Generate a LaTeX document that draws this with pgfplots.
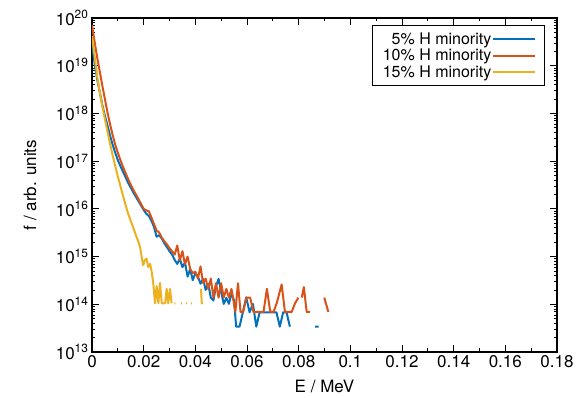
\documentclass[border=0pt]{standalone}
\usepackage{fontspec}
\setmainfont{TeX Gyre Heros}
\usepackage{pgfplots}
\pgfplotsset{compat=1.18}
\definecolor{cblue}{HTML}{0072BD}
\definecolor{corange}{HTML}{D95319}
\definecolor{cyellow}{HTML}{EDB120}
\begin{document}
\begin{tikzpicture}[font=\fontsize{17}{19}\selectfont]
\useasboundingbox (-92pt,-46pt) rectangle (486pt,352pt);
\begin{axis}[
  at={(0,0)}, anchor=south west,
  scale only axis, width=465pt, height=334pt,
  ymode=log, xmin=0, xmax=0.18, ymin=1e13, ymax=1e20,
  xtick={0,0.02,0.04,0.06,0.08,0.1,0.12,0.14,0.16,0.18},
  xticklabels={0,0.02,0.04,0.06,0.08,0.1,0.12,0.14,0.16,0.18},
  minor x tick num=1,
  ytick={1e13,1e14,1e15,1e16,1e17,1e18,1e19,1e20},
  yticklabels={10\textsuperscript{13},10\textsuperscript{14},10\textsuperscript{15},10\textsuperscript{16},10\textsuperscript{17},10\textsuperscript{18},10\textsuperscript{19},10\textsuperscript{20}},
  tick label style={font=\fontsize{17}{19}\selectfont},
  label style={font=\fontsize{17}{19}\selectfont},
  tick align=inside, major tick length=7pt, minor tick length=3.5pt,
  tick style={black, line width=0.7pt},
  axis line style={line width=1.1pt},
  xlabel={E / MeV}, ylabel={f / arb. units},
  every axis x label/.style={at={(axis description cs:0.5,-0.1018)}, anchor=center},
  every axis y label/.style={at={(axis description cs:-0.1333,0.5)}, rotate=90, anchor=center},
  unbounded coords=jump,
  legend style={at={(0.974,0.979)}, anchor=north east, draw=black, line width=0.7pt,
    font=\fontsize{16}{16}\selectfont, row sep=1.5pt, inner xsep=9pt, inner ysep=6pt,
    nodes={inner sep=1pt}},
  legend cell align=right, legend plot pos=right,
  legend image code/.code={\draw[#1, line width=2pt] (0cm,0cm) -- (1.45cm,0cm);},
  every axis plot/.append style={line width=2pt, line join=round},
]
\addplot[cblue] coordinates {
(0,2.8e19)(0.001,1.12e19)(0.002,5.2e18)(0.003,2.8e18)(0.004,1.5e18)(0.005,8.9e17)(0.006,5.6e17)(0.007,3.4e17)(0.008,2.2e17)(0.009,1.5e17)(0.010,1.05e17)(0.011,7.9e16)(0.012,6.0e16)(0.013,4.6e16)(0.014,3.5e16)(0.015,2.8e16)(0.016,2.2e16)(0.017,1.78e16)(0.018,1.45e16)(0.019,1.17e16)(0.020,9.5e15)(0.021,7.9e15)(0.022,7.1e15)(0.023,5.6e15)(0.024,4.2e15)(0.025,2.6e15)(0.026,2.8e15)(0.027,2.4e15)(0.028,1.9e15)(0.029,1.58e15)(0.030,1.3e15)(0.031,1.1e15)(0.032,8.5e14)(0.033,7.0e14)(0.034,9.0e14)(0.035,6.0e14)(0.036,7.5e14)(0.037,3.8e14)(0.038,5.5e14)(0.039,3.2e14)(0.040,4.5e14)(0.041,3.8e14)(0.042,2.7e14)(0.043,3.4e14)(0.044,2.0e14)(0.045,2.7e14)(0.046,1.36e14)(0.047,1.2e14)(0.048,2.4e14)(0.049,3.4e14)(0.050,1.8e14)(0.051,1.02e14)(0.052,1.36e14)(0.053,1.02e14)(0.054,1.7e14)(0.055,1.2e14)(0.0558,3.4e13)(0.0571,3.4e13)(0.0584,6.8e13)(0.0597,1.4e14)(0.0610,6.8e13)(0.0623,1.02e14)(0.0636,3.4e13)(0.0649,6.8e13)(0.0662,6.8e13)(0.0675,6.8e13)(0.0688,6.8e13)(0.0701,6.8e13)(0.0714,6.8e13)(0.0727,3.4e13)(0.0740,6.8e13)(0.0753,6.8e13)(0.0766,3.4e13)(0.078,nan)(0.0864,3.4e13)(0.0877,3.4e13)
};
\addlegendentry{5\% H minority}
\addplot[corange] coordinates {
(0,7.1e19)(0.001,3.2e19)(0.002,1.5e19)(0.003,7.6e18)(0.004,3.8e18)(0.005,2.0e18)(0.006,1.05e18)(0.007,5.9e17)(0.008,3.5e17)(0.009,2.2e17)(0.010,1.5e17)(0.011,1.05e17)(0.012,7.6e16)(0.013,5.6e16)(0.014,4.2e16)(0.015,3.2e16)(0.016,2.5e16)(0.017,2.0e16)(0.018,1.6e16)(0.019,1.26e16)(0.020,1.0e16)(0.021,9.3e15)(0.022,8.9e15)(0.023,6.6e15)(0.024,4.8e15)(0.025,3.5e15)(0.026,3.2e15)(0.027,2.5e15)(0.028,2.1e15)(0.029,1.8e15)(0.030,1.5e15)(0.031,1.3e15)(0.032,1.1e15)(0.033,1.7e15)(0.034,8.3e14)(0.035,1.3e15)(0.036,6.9e14)(0.037,1.0e15)(0.038,5.5e14)(0.039,4.5e14)(0.040,4.8e14)(0.041,3.45e14)(0.042,6.2e14)(0.043,2.8e14)(0.044,3.45e14)(0.045,2.1e14)(0.046,3.45e14)(0.047,1.38e14)(0.048,2.76e14)(0.049,1.38e14)(0.050,2.76e14)(0.051,1.38e14)(0.052,2.1e14)(0.053,1.38e14)(0.054,2.1e14)(0.0555,6.9e13)(0.0565,2.76e14)(0.0575,6.9e13)(0.0585,6.9e13)(0.0598,1.38e14)(0.0612,1.38e14)(0.0625,6.9e13)(0.0638,6.9e13)(0.0651,6.9e13)(0.0664,6.9e13)(0.0677,2.1e14)(0.069,6.9e13)(0.0703,6.9e13)(0.0716,1.1e14)(0.0734,2.6e14)(0.0747,6.9e13)(0.076,6.9e13)(0.0773,6.9e13)(0.0786,1.05e14)(0.0799,1.38e14)(0.0805,nan)(0.0812,1.38e14)(0.0820,2.3e14)(0.0831,6.9e13)(0.0844,6.9e13)(0.087,nan)(0.0899,1.38e14)(0.0915,6.9e13)
};
\addlegendentry{10\% H minority}
\addplot[cyellow] coordinates {
(0,4.2e19)(0.001,1.6e19)(0.002,6.0e18)(0.003,2.8e18)(0.004,1.4e18)(0.005,7.6e17)(0.006,4.2e17)(0.007,2.3e17)(0.008,1.32e17)(0.009,7.9e16)(0.010,4.8e16)(0.011,3.0e16)(0.012,1.9e16)(0.013,1.2e16)(0.014,7.9e15)(0.015,5.6e15)(0.016,4.0e15)(0.017,2.8e15)(0.018,2.0e15)(0.0186,1.6e15)(0.0192,1.0e15)(0.0198,6.6e14)(0.0205,8.4e14)(0.0211,9.1e14)(0.0218,6.0e14)(0.0225,7.0e14)(0.0231,4.8e14)(0.0237,2.8e14)(0.0244,1.05e14)(0.0250,2.4e14)(0.0257,1.05e14)(0.0263,2.8e14)(0.0270,1.05e14)(0.0276,1.05e14)(0.0283,1.05e14)(0.0289,2.1e14)(0.0295,1.05e14)(0.0302,2.1e14)(0.0308,1.05e14)(0.0312,nan)(0.0319,1.05e14)(0.0323,1.05e14)(0.033,nan)(0.0345,1.05e14)(0.0349,1.05e14)(0.0355,nan)(0.0364,1.05e14)(0.0368,1.05e14)(0.0375,nan)(0.0383,1.05e14)(0.0387,1.05e14)(0.040,nan)(0.0422,2.1e14)(0.0425,1.05e14)(0.0429,1.05e14)
};
\addlegendentry{15\% H minority}
\end{axis}
\end{tikzpicture}
\end{document}
